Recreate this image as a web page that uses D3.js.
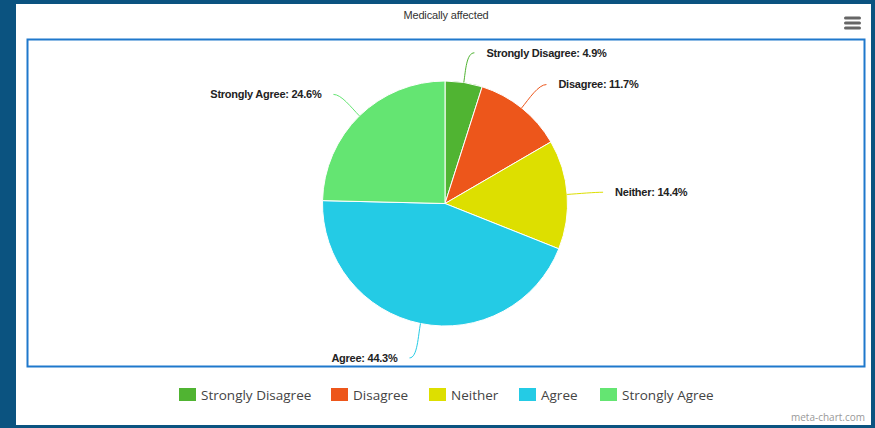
<!DOCTYPE html>
<html>
<head>
<meta charset="utf-8">
<script src="https://cdn.jsdelivr.net/npm/d3@7"></script>
<style>
  html, body { margin: 0; padding: 0; background: #0b5380; }
  svg { display: block; }
</style>
</head>
<body>
<svg id="chart" width="875" height="428"></svg>
<script>
// Survey answers for "Medically affected"
const categories = ["Strongly Disagree", "Disagree", "Neither", "Agree", "Strongly Agree"];
const shares = [4.9, 11.7, 14.4, 44.3, 24.6];
const palette = ["#50B432", "#ED561B", "#DDDF00", "#24CBE5", "#64E572"];
const title = "Medically affected";

const W = 875, H = 428;
const svg = d3.select("#chart");

// white card
svg.append("rect").attr("x", 16).attr("y", 4).attr("width", 855).attr("height", 421).attr("fill", "#ffffff");

// plot frame
svg.append("rect").attr("x", 27.5).attr("y", 39.5).attr("width", 837).attr("height", 327)
  .attr("fill", "none").attr("stroke", "#1f78cc").attr("stroke-width", 2);

// title
svg.append("text").attr("x", 446).attr("y", 19).attr("text-anchor", "middle")
  .attr("font-family", "'Liberation Sans', Arial, sans-serif")
  .attr("font-size", 11).attr("letter-spacing", -0.15).attr("fill", "#333").text(title);

// menu icon
const menu = svg.append("g").attr("fill", "#666");
[18, 23, 28].forEach(y => menu.append("rect").attr("x", 844).attr("y", y - 1.5).attr("width", 17).attr("height", 3).attr("rx", 1.5));

// pie
const cx = 445, cy = 203.5, r = 122.5, labelDist = 30;
const color = d3.scaleOrdinal().domain(categories).range(palette);
const data = categories.map((c, i) => ({ name: c, value: shares[i] }));
const pie = d3.pie().value(d => d.value).sort(null);
const arcs = pie(data);
const arc = d3.arc().innerRadius(0).outerRadius(r);

const g = svg.append("g").attr("transform", `translate(${cx},${cy})`);
g.selectAll("path.slice").data(arcs).join("path")
  .attr("class", "slice")
  .attr("d", arc)
  .attr("fill", d => color(d.data.name))
  .attr("stroke", "#fff").attr("stroke-width", 1);

// data labels with soft connectors
const polar = (a, rad) => [rad * Math.sin(a), -rad * Math.cos(a)];
arcs.forEach(d => {
  const mid = (d.startAngle + d.endAngle) / 2;
  const right = Math.sin(mid) >= 0;
  const [ex, ey] = polar(mid, r);
  const [bx, by] = polar(mid, r + 12);
  let [lx, ly] = polar(mid, r + labelDist);
  if (Math.cos(mid) < -0.5) ly += 5; // labels under the pie sit a little lower
  const endX = lx + (right ? 6 : -5);
  const path = d3.path();
  path.moveTo(endX, ly);
  path.bezierCurveTo(endX + (right ? -8 : 8), ly, bx, by, ex, ey);
  g.append("path").attr("d", path.toString())
    .attr("fill", "none").attr("stroke", color(d.data.name)).attr("stroke-width", 1);
  g.append("text")
    .attr("x", endX + (right ? 12 : -12)).attr("y", ly).attr("dy", "0.35em")
    .attr("text-anchor", right ? "start" : "end")
    .attr("font-family", "'Liberation Sans', Arial, sans-serif")
    .attr("font-weight", "bold").attr("font-size", 11).attr("letter-spacing", -0.25).attr("fill", "#222")
    .text(`${d.data.name}: ${d.data.value}%`);
});

// legend
const legendX = [179, 331, 429, 519, 600];
const legend = svg.append("g");
categories.forEach((c, i) => {
  const item = legend.append("g").attr("transform", `translate(${legendX[i]},388)`);
  item.append("rect").attr("width", 17).attr("height", 13).attr("fill", palette[i]);
  item.append("text").attr("x", 22).attr("y", 11.5)
    .attr("font-family", "'Open Sans', 'Noto Sans', sans-serif")
    .attr("font-size", 13.5).attr("fill", "#444").text(c);
});

// credit
svg.append("text").attr("x", 865).attr("y", 421).attr("text-anchor", "end")
  .attr("font-family", "'Open Sans', sans-serif").attr("font-size", 10).attr("fill", "#999")
  .text("meta-chart.com");
</script>
</body>
</html>
